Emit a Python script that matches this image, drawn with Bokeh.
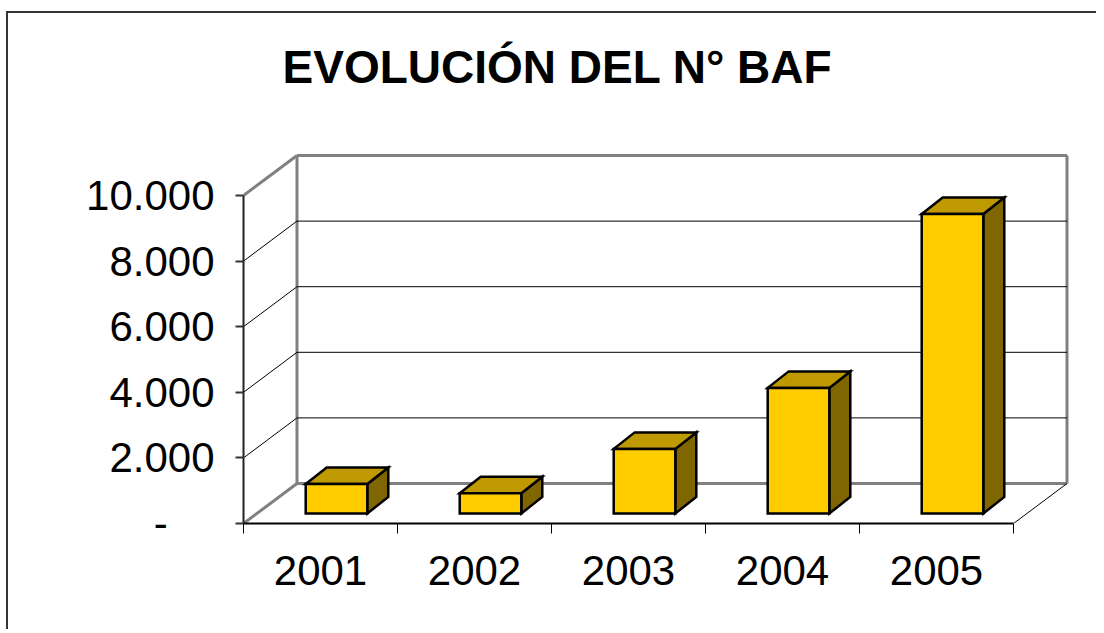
from bokeh.plotting import figure
from bokeh.models import Range1d, FixedTicker, LinearAxis
from bokeh.core.properties import value
from bokeh.embed import file_html
from bokeh.resources import INLINE

# ---- data ----
years = ["2001", "2002", "2003", "2004", "2005"]
baf = [900, 620, 1970, 3830, 9130]
y_ticks = [0, 2000, 4000, 6000, 8000, 10000]
y_tick_labels = ["-\u00a0\u00a0\u00a0\u00a0", "2.000", "4.000", "6.000", "8.000", "10.000"]
title_text = "EVOLUCIÓN DEL N° BAF"

# ---- layout constants (pixels) ----
W, H = 1090, 618
LEFT, BOTTOM = 235, 108
PX_CAT = 154.0          # pixels per category
PX_VAL = 65.6 / 2000.0  # pixels per value unit
FONT = "Liberation Sans"

frame_w = W - LEFT
frame_h = H - BOTTOM


def dx(px):
    return px / PX_CAT


def dy(px):
    return px / PX_VAL


nc = len(years)
ymax = y_ticks[-1]

p = figure(width=W, height=H, output_backend="svg", toolbar_location=None,
           x_range=Range1d(0, frame_w / PX_CAT), y_range=Range1d(0, frame_h / PX_VAL),
           min_border_left=LEFT, min_border_bottom=BOTTOM,
           min_border_top=0, min_border_right=0,
           x_axis_location=None, y_axis_location=None)
p.xgrid.visible = False
p.ygrid.visible = False
p.outline_line_color = None
p.background_fill_color = "white"
p.border_fill_color = "white"
# outer chart border (top and left edges visible; the rest is cut off)
p.styles = {"margin-left": "8px", "margin-top": "13px",
            "box-shadow": "-2px -2px 0px 0px #333333"}

# ---- walls ----
Dx, Dy = dx(53.5), dy(40)
gray_xs = [[0, Dx], [0, Dx], [Dx, Dx], [Dx, nc + Dx], [nc + Dx, nc + Dx], [Dx, nc + Dx]]
gray_ys = [[0, Dy], [ymax, ymax + Dy], [Dy, ymax + Dy], [ymax + Dy, ymax + Dy],
           [Dy, ymax + Dy], [Dy, Dy]]
p.multi_line(gray_xs, gray_ys, line_color="#808080", line_width=3)

blk_xs, blk_ys = [], []
for v in y_ticks[1:-1]:
    blk_xs.append([Dx, nc + Dx]); blk_ys.append([v + Dy, v + Dy])
    blk_xs.append([0, Dx]); blk_ys.append([v, v + Dy])
blk_xs.append([nc, nc + Dx]); blk_ys.append([0, Dy])
p.multi_line(blk_xs, blk_ys, line_color="black", line_width=1)

# ---- 3D bars ----
ox, oy = dx(16), dy(10)
bx, by = dx(21), dy(16.5)
hw = 0.2
fl, fr, ft = [], [], []
top_xs, top_ys, side_xs, side_ys = [], [], [], []
for i, v in enumerate(baf):
    c = i + 0.5 + ox
    l, r = c - hw, c + hw
    t = v + oy
    fl.append(l); fr.append(r); ft.append(t)
    top_xs.append([l, r, r + bx, l + bx]); top_ys.append([t, t, t + by, t + by])
    side_xs.append([r, r + bx, r + bx, r]); side_ys.append([oy, oy + by, t + by, t])
p.patches(side_xs, side_ys, fill_color="#806600", line_color="black", line_width=2.5, line_join="miter")
p.patches(top_xs, top_ys, fill_color="#BF9900", line_color="black", line_width=2.5, line_join="miter")
p.quad(left=fl, right=fr, bottom=[oy] * nc, top=ft, fill_color="#FFCC00",
       line_color="black", line_width=2.5, line_join="miter")

# ---- title ----
p.text(x=[dx(557 - 243)], y=[dy(457)], text=[title_text], text_align="center",
       text_baseline="alphabetic", text_font=value(FONT), text_font_style="bold",
       text_font_size="46px", text_color="black")

# ---- axes ----
yaxis = LinearAxis(bounds=(0, ymax), ticker=FixedTicker(ticks=y_ticks, minor_ticks=[]),
                   major_label_overrides=dict(zip(y_ticks, y_tick_labels)))
yaxis.axis_line_color = "#222222"
yaxis.axis_line_width = 2
yaxis.major_tick_out = 8
yaxis.major_tick_in = 0
yaxis.major_tick_line_color = "#333333"
yaxis.major_tick_line_width = 2
yaxis.minor_tick_line_color = None
yaxis.major_label_standoff = 21
yaxis.major_label_text_font = FONT
yaxis.major_label_text_font_size = "42px"
yaxis.major_label_text_color = "black"
p.add_layout(yaxis, "left")

cat_centers = [i + 0.5 for i in range(nc)]
xaxis = LinearAxis(bounds=(0, nc),
                   ticker=FixedTicker(ticks=cat_centers, minor_ticks=list(range(nc + 1))),
                   major_label_overrides=dict(zip(cat_centers, years)))
xaxis.axis_line_color = "black"
xaxis.axis_line_width = 2
xaxis.major_tick_out = 0
xaxis.major_tick_in = 0
xaxis.major_tick_line_color = None
xaxis.minor_tick_out = 10
xaxis.minor_tick_in = 0
xaxis.minor_tick_line_color = "black"
xaxis.minor_tick_line_width = 1
xaxis.major_label_standoff = 22
xaxis.major_label_text_font = FONT
xaxis.major_label_text_font_size = "42px"
xaxis.major_label_text_color = "black"
p.add_layout(xaxis, "below")

open("out.html", "w").write(file_html(p, INLINE))
